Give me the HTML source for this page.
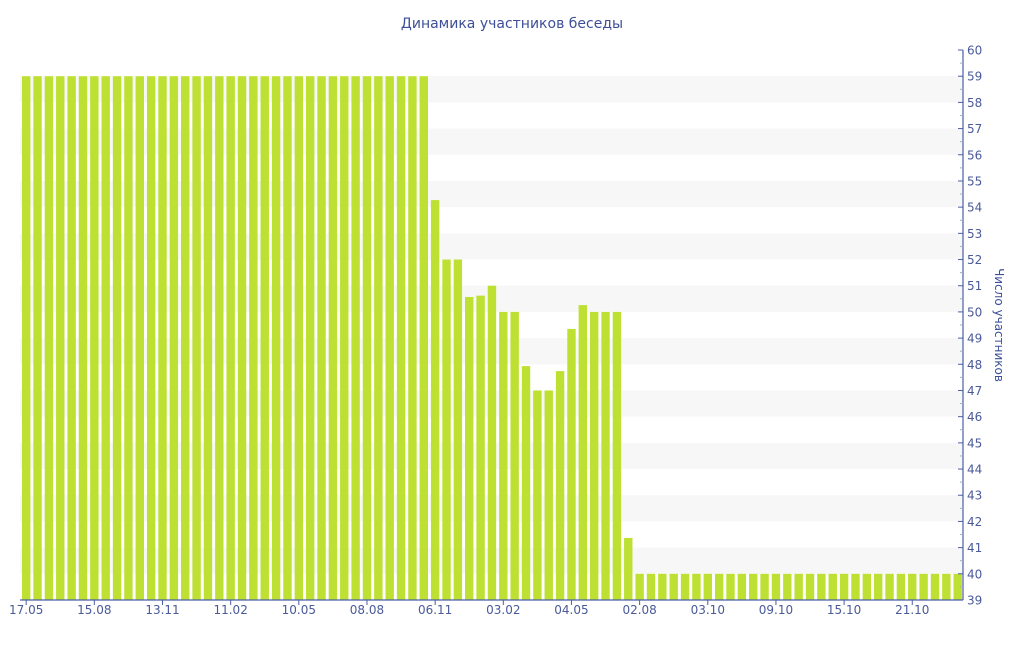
<!DOCTYPE html>
<html><head><meta charset="utf-8"><style>
html,body{margin:0;padding:0;background:#fff;}
svg text{font-family:"DejaVu Sans","Liberation Sans",sans-serif;}
</style></head><body>
<svg id="c" width="1024" height="640" xmlns="http://www.w3.org/2000/svg">
<text x="512" y="28" text-anchor="middle" font-size="14" fill="#3d4f99">Динамика участников беседы</text>
<g id="stripes"></g><g id="bars"></g><g id="axes"></g>
<text transform="translate(995,325) rotate(90)" text-anchor="middle" font-size="12" fill="#3d4f99">Число участников</text>
</svg>
<script>
var ns="http://www.w3.org/2000/svg";
function el(p,t,a,txt){var e=document.createElementNS(ns,t);for(var k in a)e.setAttribute(k,a[k]);if(txt!=null)e.textContent=txt;document.getElementById(p).appendChild(e);}
function Y(v){return 600-(v-39)*26.19;}
for(var v=40;v<=58;v+=2){el("stripes","rect",{x:20,y:Y(v+1),width:943,height:26.19,fill:"#f7f7f7"});}
var vals=[];for(var i=0;i<36;i++)vals.push(59);
vals=vals.concat([54.27,52,52,50.57,50.62,51,50,50,47.93,47,47,47.74,49.35,50.26,50,50,50,41.37]);
while(vals.length<83)vals.push(40);
var slot=11.36;
vals.forEach(function(v,i){var cx=20.5+slot*(i+0.5);el("bars","rect",{x:cx-4.2,y:Y(v),width:8.4,height:600-Y(v),fill:"#bde032"});});
var ac="#4a5fa6";
el("axes","line",{x1:963,y1:50,x2:963,y2:600,stroke:ac,"stroke-width":1.2});
el("axes","line",{x1:20,y1:600,x2:963,y2:600,stroke:ac,"stroke-width":1.2});
for(var v=39;v<=60;v++){var y=Y(v);el("axes","line",{x1:958,y1:y,x2:963,y2:y,stroke:ac});
 el("axes","text",{x:967,y:y+4.5,"font-size":12,fill:"#4a5a9a"},String(v));
 if(v<60)el("axes","line",{x1:960,y1:y-13.1,x2:963,y2:y-13.1,stroke:"#aab"});}
var labs=["17.05","15.08","13.11","11.02","10.05","08.08","06.11","03.02","04.05","02.08","03.10","09.10","15.10","21.10"];
labs.forEach(function(l,k){var cx=20.5+slot*(k*6+0.5);el("axes","line",{x1:cx,y1:600,x2:cx,y2:605,stroke:ac});
 el("axes","text",{x:cx,y:614,"font-size":12,fill:"#4a5a9a","text-anchor":"middle"},l);});
</script>
</body></html>
